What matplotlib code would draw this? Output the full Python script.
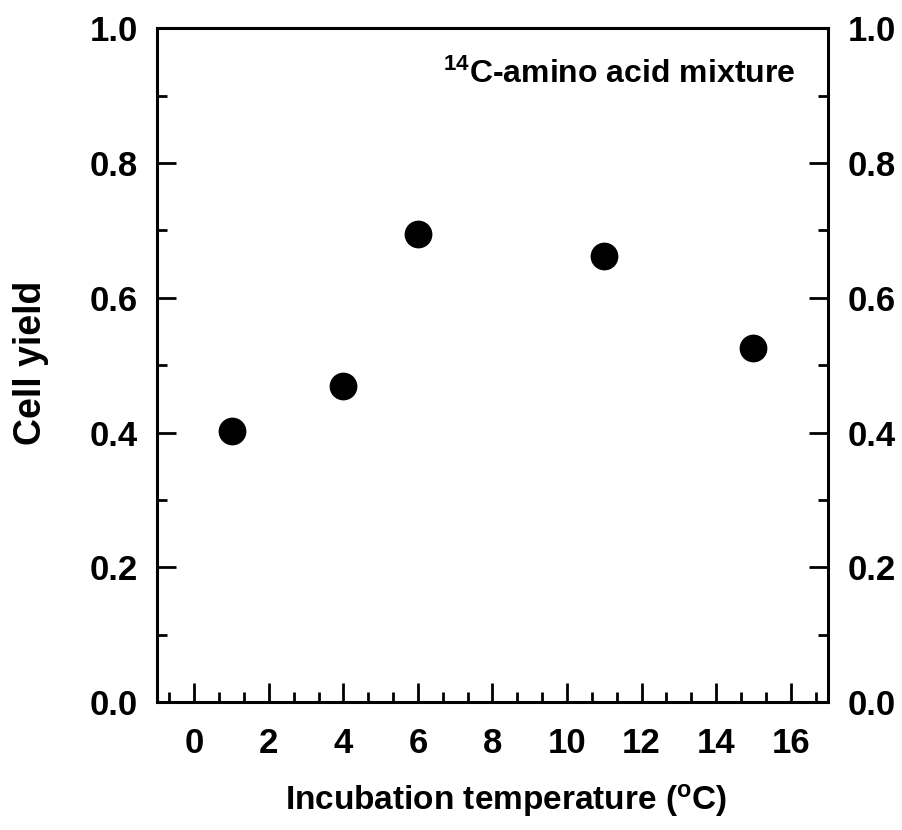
import matplotlib
matplotlib.use("Agg")
import matplotlib.pyplot as plt
from matplotlib.ticker import MultipleLocator

temperature = [1, 4, 6, 11, 15]
cell_yield = [0.403, 0.469, 0.694, 0.662, 0.526]

x_ticks = [0, 2, 4, 6, 8, 10, 12, 14, 16]
y_ticks = [0.0, 0.2, 0.4, 0.6, 0.8, 1.0]

plt.rcParams['font.family'] = ['Liberation Sans', 'DejaVu Sans']
plt.rcParams['font.weight'] = 'bold'

fig = plt.figure(figsize=(9.02, 8.30), dpi=100)
ax = fig.add_axes([0.174, 0.154, 0.744, 0.812])

ax.plot(temperature, cell_yield, 'o', color='black', markersize=20, markeredgewidth=0)

ax.set_xlim(-1, 17)
ax.set_ylim(0, 1.0)
ax.set_xticks(x_ticks)
ax.set_xticklabels([str(t) for t in x_ticks])
ax.set_yticks(y_ticks)
ax.set_yticklabels([f"{v:.1f}" for v in y_ticks])
ax.xaxis.set_minor_locator(MultipleLocator(2/3))
ax.yaxis.set_minor_locator(MultipleLocator(0.1))

for sp in ax.spines.values():
    sp.set_linewidth(2.2)

ax.tick_params(axis='both', which='major', direction='in', length=14, width=2,
               labelsize=25)
ax.tick_params(axis='x', which='major', pad=18)
ax.tick_params(axis='y', which='major', pad=14)
ax.tick_params(axis='both', which='minor', direction='in', length=7.5, width=2)
ax.tick_params(axis='x', which='both', top=False)
ax.tick_params(axis='y', which='both', left=True, right=True, labelleft=True, labelright=True)

for lab in ax.get_xticklabels() + ax.get_yticklabels():
    lab.set_fontweight('bold')

fig.text(506 / 902, 1 - 810 / 830, 'Incubation temperature ($\\mathregular{^{o}}$C)',
         fontsize=24, fontweight='bold', ha='center', va='baseline')
fig.text(31 / 902, 1 - 363 / 830, 'Cell yield', fontsize=27, fontweight='bold',
         rotation=90, ha='center', va='center')

ax.text(0.426, 0.918, '$\\mathregular{^{14}}$C-amino acid mixture', transform=ax.transAxes,
        fontsize=23, fontweight='bold', ha='left', va='baseline')

fig.savefig('out.png', dpi=100)
